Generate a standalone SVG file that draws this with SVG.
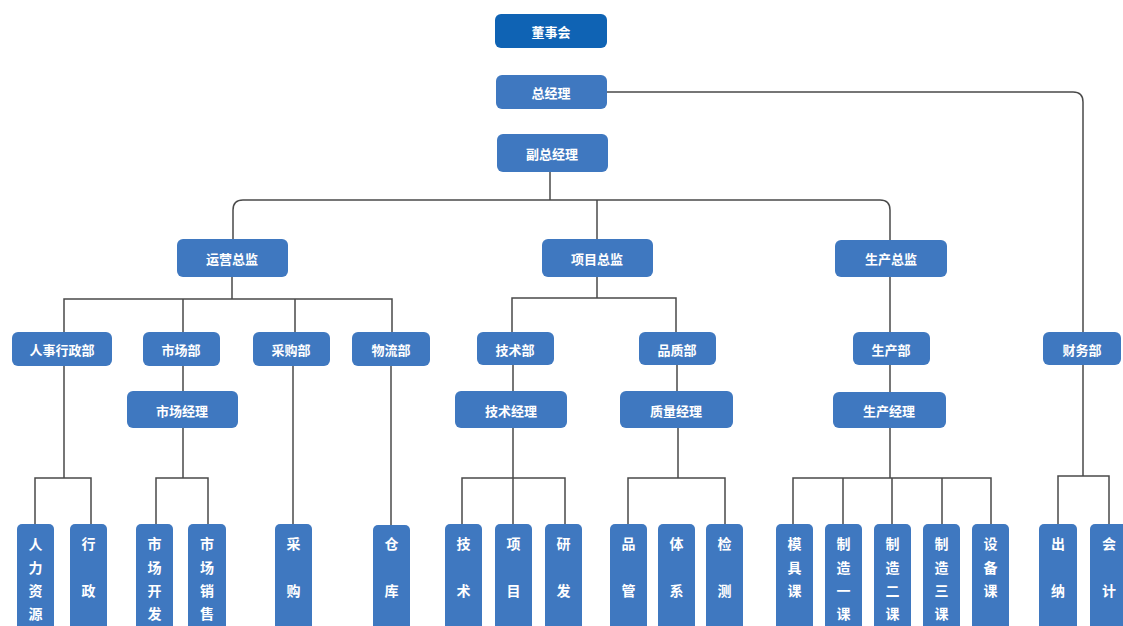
<svg xmlns="http://www.w3.org/2000/svg" width="1123" height="626" viewBox="0 0 1123 626">
<style>
.n{fill:#3f78c0;}
.top{fill:#0f63b4;}
.t{font-family:"Noto Sans CJK SC","Noto Sans",sans-serif;font-size:13px;font-weight:bold;fill:#fff;text-anchor:middle;dominant-baseline:central;}
.v{font-family:"Noto Sans CJK SC","Noto Sans",sans-serif;font-size:14px;font-weight:bold;fill:#fff;text-anchor:middle;dominant-baseline:central;}
.c{fill:none;stroke:#4a4a4a;stroke-width:1.5;}
</style>
<rect width="1123" height="626" fill="#fff"/>
<g id="connectors">
<path class="c" d="M607,92 H1073 Q1083,92 1083,102 V332"/>
<path class="c" d="M550,172 V200"/>
<path class="c" d="M233,239 V210 Q233,200 243,200 H880 Q890,200 890,210 V241"/>
<path class="c" d="M597,200 V239"/>
<path class="c" d="M232,277 V299 M64,332 V299 H392 V332 M183,299 V332 M295,299 V332"/>
<path class="c" d="M597,277 V298 M512,332 V298 H676 V332"/>
<path class="c" d="M890,277 V332 M890,365 V392 M890,428 V478 M793,524 V478 H991 V524 M843,478 V524 M942,478 V524 M892,478 V524"/>
<path class="c" d="M1083,365 V476 M1058,524 V476 H1109 V524"/>
<path class="c" d="M64,366 V478 M35,524 V478 H91 V524"/>
<path class="c" d="M183,366 V391 M183,428 V478 M156,524 V478 H208 V524"/>
<path class="c" d="M293,366 V524"/>
<path class="c" d="M391,366 V525"/>
<path class="c" d="M513,365 V391 M513,428 V478 M462,524 V478 H565 V524 M513,478 V524"/>
<path class="c" d="M677,365 V391 M678,428 V478 M628,524 V478 H725 V524"/>
</g>
<g id="n-dongshihui"><rect class="top" x="495" y="14" width="112" height="34" rx="6"/><text class="t" x="551" y="31">董事会</text></g>
<g id="n-zongjingli"><rect class="n" x="496" y="75" width="111" height="34" rx="6"/><text class="t" x="551" y="92">总经理</text></g>
<g id="n-fuzongjingli"><rect class="n" x="497" y="134" width="111" height="38" rx="6"/><text class="t" x="552" y="153">副总经理</text></g>
<g id="n-yunying"><rect class="n" x="177" y="239" width="111" height="38" rx="6"/><text class="t" x="232" y="258">运营总监</text></g>
<g id="n-xiangmu"><rect class="n" x="542" y="239" width="111" height="38" rx="6"/><text class="t" x="597" y="258">项目总监</text></g>
<g id="n-shengchan"><rect class="n" x="835" y="240" width="112" height="37" rx="6"/><text class="t" x="891" y="258">生产总监</text></g>
<g id="n-renshi"><rect class="n" x="12" y="332" width="100" height="34" rx="6"/><text class="t" x="62" y="349">人事行政部</text></g>
<g id="n-shichangbu"><rect class="n" x="143" y="332" width="77" height="34" rx="6"/><text class="t" x="181" y="349">市场部</text></g>
<g id="n-caigoubu"><rect class="n" x="253" y="332" width="77" height="34" rx="6"/><text class="t" x="291" y="349">采购部</text></g>
<g id="n-wuliubu"><rect class="n" x="352" y="332" width="78" height="34" rx="6"/><text class="t" x="391" y="349">物流部</text></g>
<g id="n-jishubu"><rect class="n" x="477" y="332" width="77" height="33" rx="6"/><text class="t" x="515" y="349">技术部</text></g>
<g id="n-pinzhibu"><rect class="n" x="639" y="332" width="77" height="33" rx="6"/><text class="t" x="677" y="349">品质部</text></g>
<g id="n-shengchanbu"><rect class="n" x="853" y="332" width="77" height="33" rx="6"/><text class="t" x="891" y="349">生产部</text></g>
<g id="n-caiwubu"><rect class="n" x="1043" y="332" width="78" height="33" rx="6"/><text class="t" x="1082" y="349">财务部</text></g>
<g id="n-shichangjingli"><rect class="n" x="127" y="391" width="111" height="37" rx="6"/><text class="t" x="182" y="410">市场经理</text></g>
<g id="n-jishujingli"><rect class="n" x="455" y="391" width="112" height="37" rx="6"/><text class="t" x="511" y="410">技术经理</text></g>
<g id="n-zhiliangjingli"><rect class="n" x="620" y="391" width="113" height="37" rx="6"/><text class="t" x="676" y="410">质量经理</text></g>
<g id="n-shengchanjingli"><rect class="n" x="833" y="392" width="113" height="36" rx="6"/><text class="t" x="889" y="410">生产经理</text></g>
<g id="n-renliziyuan"><rect class="n" x="17" y="524" width="37" height="110" rx="5"/><text class="v" x="35.5" y="543">人</text><text class="v" x="35.5" y="567">力</text><text class="v" x="35.5" y="590">资</text><text class="v" x="35.5" y="613">源</text></g>
<g id="n-xingzheng"><rect class="n" x="70" y="524" width="37" height="110" rx="5"/><text class="v" x="88.5" y="543">行</text><text class="v" x="88.5" y="590">政</text></g>
<g id="n-shichangkaifa"><rect class="n" x="136" y="524" width="37" height="110" rx="5"/><text class="v" x="154.5" y="543">市</text><text class="v" x="154.5" y="567">场</text><text class="v" x="154.5" y="590">开</text><text class="v" x="154.5" y="613">发</text></g>
<g id="n-shichangxiaoshou"><rect class="n" x="188" y="524" width="38" height="110" rx="5"/><text class="v" x="207" y="543">市</text><text class="v" x="207" y="567">场</text><text class="v" x="207" y="590">销</text><text class="v" x="207" y="613">售</text></g>
<g id="n-caigou"><rect class="n" x="275" y="524" width="37" height="110" rx="5"/><text class="v" x="293.5" y="543">采</text><text class="v" x="293.5" y="590">购</text></g>
<g id="n-cangku"><rect class="n" x="373" y="525" width="37" height="110" rx="5"/><text class="v" x="391.5" y="543">仓</text><text class="v" x="391.5" y="590">库</text></g>
<g id="n-jishu"><rect class="n" x="445" y="524" width="37" height="110" rx="5"/><text class="v" x="463.5" y="543">技</text><text class="v" x="463.5" y="590">术</text></g>
<g id="n-xiangmu2"><rect class="n" x="495" y="524" width="37" height="110" rx="5"/><text class="v" x="513.5" y="543">项</text><text class="v" x="513.5" y="590">目</text></g>
<g id="n-yanfa"><rect class="n" x="545" y="524" width="37" height="110" rx="5"/><text class="v" x="563.5" y="543">研</text><text class="v" x="563.5" y="590">发</text></g>
<g id="n-pinguan"><rect class="n" x="610" y="524" width="37" height="110" rx="5"/><text class="v" x="628.5" y="543">品</text><text class="v" x="628.5" y="590">管</text></g>
<g id="n-tixi"><rect class="n" x="658" y="524" width="37" height="110" rx="5"/><text class="v" x="676.5" y="543">体</text><text class="v" x="676.5" y="590">系</text></g>
<g id="n-jiance"><rect class="n" x="706" y="524" width="37" height="110" rx="5"/><text class="v" x="724.5" y="543">检</text><text class="v" x="724.5" y="590">测</text></g>
<g id="n-mojuke"><rect class="n" x="776" y="524" width="37" height="110" rx="5"/><text class="v" x="794.5" y="543">模</text><text class="v" x="794.5" y="567">具</text><text class="v" x="794.5" y="590">课</text></g>
<g id="n-zhizao1"><rect class="n" x="825" y="524" width="37" height="110" rx="5"/><text class="v" x="843.5" y="543">制</text><text class="v" x="843.5" y="567">造</text><text class="v" x="843.5" y="590">一</text><text class="v" x="843.5" y="613">课</text></g>
<g id="n-zhizao2"><rect class="n" x="874" y="524" width="37" height="110" rx="5"/><text class="v" x="892.5" y="543">制</text><text class="v" x="892.5" y="567">造</text><text class="v" x="892.5" y="590">二</text><text class="v" x="892.5" y="613">课</text></g>
<g id="n-zhizao3"><rect class="n" x="923" y="524" width="37" height="110" rx="5"/><text class="v" x="941.5" y="543">制</text><text class="v" x="941.5" y="567">造</text><text class="v" x="941.5" y="590">三</text><text class="v" x="941.5" y="613">课</text></g>
<g id="n-shebeike"><rect class="n" x="972" y="524" width="37" height="110" rx="5"/><text class="v" x="990.5" y="543">设</text><text class="v" x="990.5" y="567">备</text><text class="v" x="990.5" y="590">课</text></g>
<g id="n-chuna"><rect class="n" x="1039" y="524" width="38" height="110" rx="5"/><text class="v" x="1058" y="543">出</text><text class="v" x="1058" y="590">纳</text></g>
<g id="n-kuaiji"><rect class="n" x="1090" y="524" width="38" height="110" rx="5"/><text class="v" x="1109" y="543">会</text><text class="v" x="1109" y="590">计</text></g>
</svg>
